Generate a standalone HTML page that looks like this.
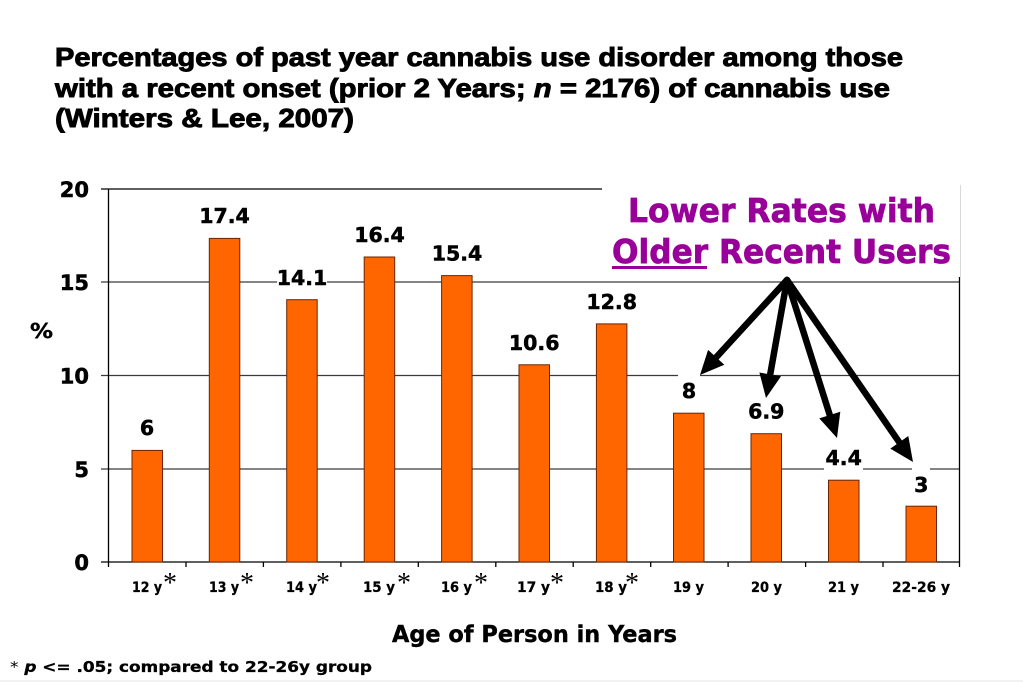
<!DOCTYPE html>
<html><head><meta charset="utf-8"><style>
html,body{margin:0;padding:0;background:#fff;}
svg{display:block;}
</style></head><body>
<svg width="1023" height="682" viewBox="0 0 1023 682" xmlns="http://www.w3.org/2000/svg">
<rect width="1023" height="682" fill="#fff"/>
<!-- Title -->
<g font-family="Liberation Sans, Arial, sans-serif" font-weight="bold" font-size="26" fill="#000" stroke="#000" stroke-width="0.9">
<text x="55" y="66" textLength="848" lengthAdjust="spacingAndGlyphs">Percentages of past year cannabis use disorder among those</text>
<text x="55" y="97" textLength="835" lengthAdjust="spacingAndGlyphs">with a recent onset (prior 2 Years; <tspan font-style="italic">n</tspan> = 2176) of cannabis use</text>
<text x="55" y="127" textLength="299" lengthAdjust="spacingAndGlyphs">(Winters &amp; Lee, 2007)</text>
</g>

<!-- gridlines -->
<g stroke="#3a3a3a" stroke-width="1.3">
<line x1="101" y1="469" x2="959" y2="469"/>
<line x1="101" y1="375.5" x2="959" y2="375.5"/>
<line x1="101" y1="282" x2="959" y2="282"/>
</g>
<line x1="101" y1="189" x2="960" y2="189" stroke="#000" stroke-width="1.3"/>
<!-- axes -->
<line x1="108.5" y1="189" x2="108.5" y2="567" stroke="#000" stroke-width="1.3"/>
<line x1="101" y1="562" x2="959.5" y2="562" stroke="#000" stroke-width="1.3"/>
<line x1="959.5" y1="189" x2="959.5" y2="567" stroke="#000" stroke-width="1.3"/>
<g stroke="#000" stroke-width="1.3">
<line x1="186" y1="562" x2="186" y2="567"/>
<line x1="263.4" y1="562" x2="263.4" y2="567"/>
<line x1="340.9" y1="562" x2="340.9" y2="567"/>
<line x1="418.3" y1="562" x2="418.3" y2="567"/>
<line x1="495.8" y1="562" x2="495.8" y2="567"/>
<line x1="573.2" y1="562" x2="573.2" y2="567"/>
<line x1="650.7" y1="562" x2="650.7" y2="567"/>
<line x1="728.1" y1="562" x2="728.1" y2="567"/>
<line x1="805.6" y1="562" x2="805.6" y2="567"/>
<line x1="883" y1="562" x2="883" y2="567"/>
</g>

<!-- bars -->
<g fill="#ff6600" stroke="#6b2400" stroke-width="1">
<rect x="132" y="450.4" width="30.5" height="111.6"/>
<rect x="209.3" y="238.4" width="30.5" height="323.6"/>
<rect x="286.7" y="299.7" width="30.5" height="262.3"/>
<rect x="364.2" y="257" width="30.5" height="305"/>
<rect x="441.6" y="275.6" width="30.5" height="286.4"/>
<rect x="519" y="364.8" width="30.5" height="197.2"/>
<rect x="596.4" y="323.9" width="30.5" height="238.1"/>
<rect x="673.5" y="413.2" width="30.5" height="148.8"/>
<rect x="751" y="433.7" width="30.5" height="128.3"/>
<rect x="828.5" y="480.2" width="30.5" height="81.8"/>
<rect x="906" y="506.2" width="30.5" height="55.8"/>
</g>

<!-- annotation box -->
<rect x="602" y="178" width="358" height="99" fill="#fff"/>
<line x1="960.5" y1="185" x2="960.5" y2="277" stroke="#d8d8d8" stroke-width="1"/>
<g font-family="DejaVu Sans, Liberation Sans, sans-serif" font-weight="bold" font-size="33" fill="#990099" stroke="#990099" stroke-width="0.7">
<text x="628" y="222" textLength="307" lengthAdjust="spacingAndGlyphs">Lower Rates with</text>
<text x="612" y="263" textLength="339" lengthAdjust="spacingAndGlyphs">Older Recent Users</text>
</g>
<rect x="612" y="266" width="95" height="3" fill="#990099"/>

<!-- data label backgrounds -->
<g fill="#fff">
<rect x="277" y="265" width="50" height="26"/>
<rect x="678" y="372" width="22" height="30"/>
<rect x="824" y="446" width="39" height="26"/>
<rect x="912" y="466" width="18" height="30"/>
</g>
<!-- data labels -->
<g font-family="DejaVu Sans, Liberation Sans, sans-serif" font-weight="bold" font-size="20.5" fill="#000" stroke="#000" stroke-width="0.5" text-anchor="middle">
<text x="147" y="435">6</text>
<text x="224.5" y="223">17.4</text>
<text x="302" y="285">14.1</text>
<text x="379.5" y="242">16.4</text>
<text x="457" y="260.5">15.4</text>
<text x="534.2" y="350">10.6</text>
<text x="611.7" y="309">12.8</text>
<text x="689" y="398">8</text>
<text x="766.3" y="418.5">6.9</text>
<text x="843.7" y="465">4.4</text>
<text x="921.2" y="492">3</text>
</g>

<!-- arrows -->
<g stroke="#000" stroke-width="6.5" stroke-linecap="round">
<line x1="787" y1="280" x2="716.2" y2="357.3"/>
<line x1="787" y1="280" x2="770.2" y2="374.4"/>
<line x1="787" y1="280" x2="829.8" y2="415.1"/>
<line x1="787" y1="280" x2="899.3" y2="442.3"/>
</g>
<g fill="#000">
<polygon points="700,375 724.3,364.7 708.1,349.9"/>
<polygon points="766,398 781,376.3 759.4,372.5"/>
<polygon points="837,438 840.3,411.8 819.3,418.4"/>
<polygon points="913,462 908.3,436 890.3,448.6"/>
</g>

<!-- y tick labels -->
<g font-family="DejaVu Sans, Liberation Sans, sans-serif" font-weight="bold" font-size="21" fill="#000" stroke="#000" stroke-width="0.5" text-anchor="end">
<text x="89" y="197">20</text>
<text x="89" y="290">15</text>
<text x="89" y="383.5">10</text>
<text x="89" y="477">5</text>
<text x="89" y="570">0</text>
</g>
<text x="30" y="338" font-family="DejaVu Sans, Liberation Sans, sans-serif" font-weight="bold" font-size="20" stroke="#000" stroke-width="0.4" textLength="23" lengthAdjust="spacingAndGlyphs">%</text>

<!-- x labels -->
<g font-family="DejaVu Sans, Liberation Sans, sans-serif" font-weight="bold" font-size="14.5" fill="#000" stroke="#000" stroke-width="0.3">
<text x="132" y="592" textLength="30" lengthAdjust="spacingAndGlyphs">12 y</text>
<text x="209" y="592" textLength="30" lengthAdjust="spacingAndGlyphs">13 y</text>
<text x="286" y="592" textLength="31" lengthAdjust="spacingAndGlyphs">14 y</text>
<text x="363" y="592" textLength="32" lengthAdjust="spacingAndGlyphs">15 y</text>
<text x="441" y="592" textLength="31" lengthAdjust="spacingAndGlyphs">16 y</text>
<text x="517" y="592" textLength="33" lengthAdjust="spacingAndGlyphs">17 y</text>
<text x="595" y="592" textLength="32" lengthAdjust="spacingAndGlyphs">18 y</text>
<text x="673" y="592" textLength="31" lengthAdjust="spacingAndGlyphs">19 y</text>
<text x="751" y="592" textLength="31" lengthAdjust="spacingAndGlyphs">20 y</text>
<text x="828" y="592" textLength="31" lengthAdjust="spacingAndGlyphs">21 y</text>
<text x="892" y="592" textLength="58" lengthAdjust="spacingAndGlyphs">22-26 y</text>
</g>
<g font-family="Liberation Serif, serif" font-size="28" fill="#000">
<text x="163" y="592">*</text>
<text x="240" y="592">*</text>
<text x="316" y="592">*</text>
<text x="397" y="592">*</text>
<text x="474" y="592">*</text>
<text x="550" y="592">*</text>
<text x="625" y="592">*</text>
</g>

<!-- axis title -->
<text x="392" y="642" font-family="DejaVu Sans, Liberation Sans, sans-serif" font-weight="bold" font-size="23" stroke="#000" stroke-width="0.4" textLength="285" lengthAdjust="spacingAndGlyphs">Age of Person in Years</text>

<!-- footnote -->
<text x="10" y="672" font-family="DejaVu Sans, Liberation Sans, sans-serif" font-weight="bold" font-size="15" stroke="#000" stroke-width="0.3" textLength="362" lengthAdjust="spacingAndGlyphs"><tspan font-weight="normal" stroke-width="0">*</tspan> <tspan font-style="italic">p</tspan> &lt;= .05; compared to 22-26y group</text>

<line x1="0" y1="681" x2="1023" y2="681" stroke="#e4e4e4" stroke-width="1"/>
</svg>
</body></html>
